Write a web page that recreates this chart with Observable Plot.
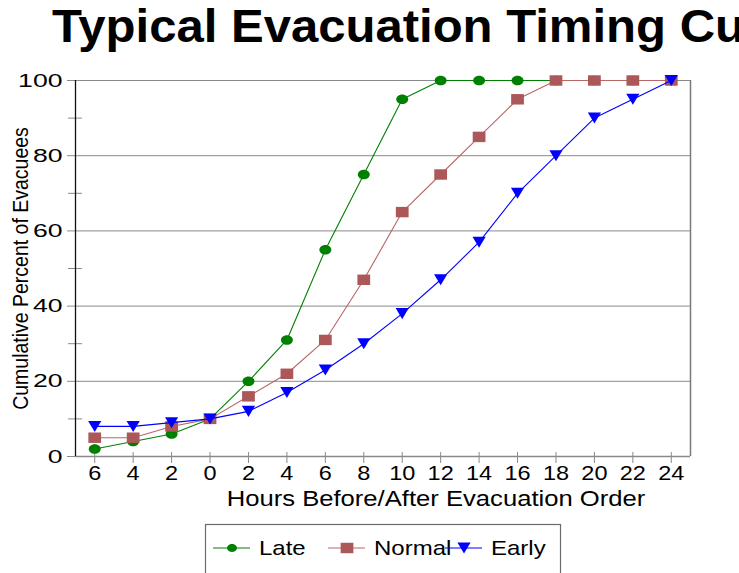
<!DOCTYPE html>
<html>
<head>
<meta charset="utf-8">
<script src="https://cdn.jsdelivr.net/npm/d3@7"></script>
<script src="https://cdn.jsdelivr.net/npm/@observablehq/plot@0.6"></script>
<style>
  html, body { margin: 0; padding: 0; background: #fff; }
  #chart { position: relative; width: 739px; height: 573px; overflow: hidden; background: #fff;
           font-family: "Liberation Sans", Arial, sans-serif; }
  #title { position: absolute; left: 52px; top: 3px; white-space: nowrap; font-weight: bold;
           font-size: 46px; line-height: 46px; color: #000; transform: scaleX(1.066); transform-origin: left top; }
  #plot { position: absolute; left: 0; top: 60px; }
  #legend { position: absolute; left: 0; top: 523px; }
</style>
</head>
<body>
<div id="chart">
  <div id="title">Typical Evacuation Timing Curves</div>
  <div id="plot"></div>
  <div id="legend"></div>
</div>
<script>
// ---- data ----
const hours = [-6, -4, -2, 0, 2, 4, 6, 8, 10, 12, 14, 16, 18, 20, 22, 24];
const late = [2, 4, 6, 10, 20, 31, 55, 75, 95, 100, 100, 100, 100, 100, 100, 100];
const normal = [5, 5, 8, 10, 16, 22, 31, 47, 65, 75, 85, 95, 100, 100, 100, 100];
const early = [8, 8, 9, 10, 12, 17, 23, 30, 38, 47, 57, 70, 80, 90, 95, 100];
const seriesNames = ["Late", "Normal", "Early"];
const yMajor = [0, 20, 40, 60, 80, 100];
const yMinor = [10, 30, 50, 70, 90];
const xDomain = [-7, 25];
const yDomain = [0, 100];
const xTitle = "Hours Before/After Evacuation Order";
const yTitle = "Cumulative Percent of Evacuees";

const colors = {Late: "#008000", Normal: "#b86666", Early: "#0000ff"};
const fills = {Late: "#008000", Normal: "#ad5858", Early: "#0000ff"};

// layout
const W = 739, H = 455, mT = 20, mB = 59, mL = 75, mR = 49;
const frameW = W - mL - mR, frameH = H - mT - mB;

// custom symbols
const ellipseSym = {draw(ctx, size) {
  const r = Math.sqrt(size / Math.PI), rx = r * 1.15, ry = r * 0.92, k = 0.5523;
  ctx.moveTo(rx, 0);
  ctx.bezierCurveTo(rx, ry * k, rx * k, ry, 0, ry);
  ctx.bezierCurveTo(-rx * k, ry, -rx, ry * k, -rx, 0);
  ctx.bezierCurveTo(-rx, -ry * k, -rx * k, -ry, 0, -ry);
  ctx.bezierCurveTo(rx * k, -ry, rx, -ry * k, rx, 0);
  ctx.closePath();
}};
const rectSym = {draw(ctx, size) {
  const r = Math.sqrt(size / Math.PI), w = r * 1.1, h = r * 0.9;
  ctx.moveTo(-w, -h); ctx.lineTo(w, -h); ctx.lineTo(w, h); ctx.lineTo(-w, h); ctx.closePath();
}};
const triDownSym = {draw(ctx, size) {
  const r = Math.sqrt(size / Math.PI), w = r * 1.1, h = r * 0.92;
  ctx.moveTo(-w, -h); ctx.lineTo(w, -h); ctx.lineTo(0, h); ctx.closePath();
}};
const symbols = {Late: ellipseSym, Normal: rectSym, Early: triDownSym};
const radii = {Late: 5.2, Normal: 5.8, Early: 6};

const rows = [];
[late, normal, early].forEach((vals, si) => {
  vals.forEach((v, i) => rows.push({series: seriesNames[si], hour: hours[i], pct: v}));
});

const seriesMarks = seriesNames.flatMap(name => {
  const d = rows.filter(r => r.series === name);
  return [
    Plot.line(d, {x: "hour", y: "pct", stroke: colors[name], strokeWidth: 1.1}),
    Plot.dot(d, {x: "hour", y: "pct", symbol: symbols[name], r: radii[name], fill: fills[name], stroke: "none"})
  ];
});

const svg = Plot.plot({
  width: W,
  height: H,
  marginTop: mT,
  marginBottom: mB,
  marginLeft: mL,
  marginRight: mR,
  x: {domain: xDomain},
  y: {domain: yDomain},
  style: {fontFamily: '"Liberation Sans", Arial, sans-serif', fontSize: "21px", color: "#000", background: "#fff", overflow: "visible"},
  marks: [
    Plot.gridY(yMajor.filter(v => v > 0), {stroke: "#8a8a8a", strokeOpacity: 1}),
    Plot.ruleY([yDomain[0]], {stroke: "#8a8a8a", strokeWidth: 1.5}),
    Plot.ruleX([xDomain[1]], {stroke: "#7a7a7a", strokeWidth: 1.5}),
    Plot.axisY(yMajor, {tickSize: 8, tickPadding: 5, stroke: "#8a8a8a", fontSize: 19, label: null}),
    // minor y ticks crossing the left axis
    Plot.ruleY(yMinor, {stroke: "#8a8a8a", insetLeft: -7, insetRight: frameW - 7}),
    // x ticks crossing the bottom axis
    Plot.ruleX(hours, {stroke: "#8a8a8a", insetTop: frameH - 4, insetBottom: -7}),
    Plot.axisX(hours, {tickSize: 0, tickPadding: 9, tickFormat: d => String(Math.abs(d)), fontSize: 21, label: null}),
    Plot.ruleX([xDomain[0]], {stroke: "#111", strokeWidth: 1.3}),
    ...seriesMarks,
    Plot.text([yTitle], {frameAnchor: "left", rotate: -90, textAnchor: "middle", lineAnchor: "middle", dx: -54, fontSize: 19.5}),
    Plot.text([xTitle], {frameAnchor: "bottom", textAnchor: "middle", lineAnchor: "middle", dx: 53, dy: 42, fontSize: 22})
  ]
});

function stretchEl(t, sx, sy) {
  let tr = t.getAttribute("transform") || "";
  const x = +(t.getAttribute("x") || 0), y = +(t.getAttribute("y") || 0);
  if (x || y) { tr += ` translate(${x},${y})`; t.removeAttribute("x"); t.removeAttribute("y"); }
  t.setAttribute("transform", `${tr} scale(${sx},${sy})`);
}
function stretch(root, selector, sx, sy) {
  root.querySelectorAll(selector).forEach(t => stretchEl(t, sx, sy));
}
function stretchText(root, content, sx, sy) {
  root.querySelectorAll("text").forEach(t => { if (t.textContent === content) stretchEl(t, sx, sy); });
}
stretch(svg, 'g[aria-label="y-axis tick label"] text', 1.4, 1);
stretch(svg, 'g[aria-label="x-axis tick label"] text', 1.12, 1);
stretchText(svg, xTitle, 1.165, 1);
stretchText(svg, yTitle, 1, 1.12);
document.getElementById("plot").appendChild(svg);

// ---- legend ----
const lg = d3.select("#legend").append("svg").attr("width", 739).attr("height", 50)
  .style("font-family", '"Liberation Sans", Arial, sans-serif');
lg.append("rect").attr("x", 205.5).attr("y", 1.5).attr("width", 355).attr("height", 80)
  .attr("fill", "#fff").attr("stroke", "#6a6a6a").attr("stroke-width", 1.2);
const itemX = [213, 328, 445];
seriesNames.forEach((name, i) => {
  const x0 = itemX[i], cy = 25;
  lg.append("line").attr("x1", x0).attr("x2", x0 + 37).attr("y1", cy).attr("y2", cy)
    .attr("stroke", colors[name]).attr("stroke-width", 1.1);
  lg.append("path").attr("transform", `translate(${x0 + 19},${cy})`)
    .attr("d", d3.symbol(symbols[name], Math.PI * (name === "Late" ? 4.3 : radii[name]) ** 2)())
    .attr("fill", fills[name]);
  lg.append("text").attr("transform", `translate(${x0 + 46},${cy + 7}) scale(1.2,1)`)
    .attr("font-size", 20).attr("fill", "#000").text(name);
});
</script>
</body>
</html>
